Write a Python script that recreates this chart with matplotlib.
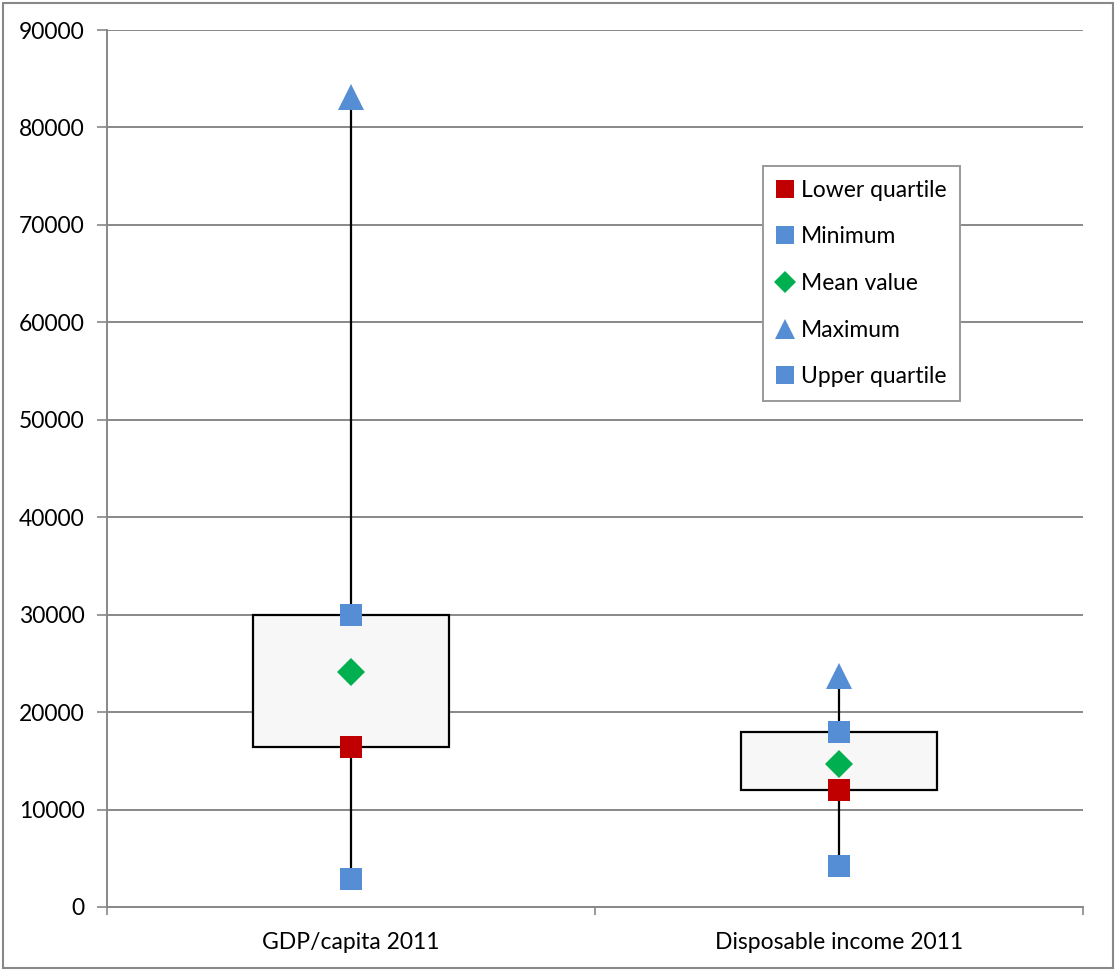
import matplotlib.pyplot as plt
from matplotlib.patches import Rectangle

# summary statistics per indicator
categories = ['GDP/capita 2011', 'Disposable income 2011']
minimum = [2900, 4200]
lower_q = [16400, 12000]
mean_val = [24100, 14700]
upper_q = [30000, 18000]
maximum = [83100, 23700]

plt.rcParams['font.family'] = ['Lato', 'DejaVu Sans']
plt.rcParams['font.size'] = 16.5

fig = plt.figure(figsize=(11.16, 9.72), dpi=100)
ax = fig.add_axes([0.0959, 0.0669, 0.8745, 0.9022])

x = list(range(len(categories)))

# whiskers from min to max
for xi, lo, hi in zip(x, minimum, maximum):
    ax.plot([xi, xi], [lo, hi], color='black', lw=1.6, zorder=2)

# box between the quartiles
ax.bar(x, [u - l for u, l in zip(upper_q, lower_q)], bottom=lower_q, width=0.4,
       color='#F7F7F7', edgecolor='black', linewidth=1.6, zorder=3)

ms = 16.5
ax.plot(x, lower_q, 's', color='#C00000', ms=ms, mew=0, label='Lower quartile', zorder=4)
ax.plot(x, minimum, 's', color='#558ED5', ms=ms, mew=0, label='Minimum', zorder=4)
ax.plot(x, mean_val, 'D', color='#00B050', ms=ms * 0.85, mew=0, label='Mean value', zorder=4)
ax.plot(x, maximum, '^', color='#558ED5', ms=ms * 1.1, mew=0, label='Maximum', zorder=4)
ax.plot(x, upper_q, 's', color='#558ED5', ms=ms, mew=0, label='Upper quartile', zorder=4)

ax.set_xlim(-0.5, 1.5)
ax.set_ylim(0, 90000)
ax.set_yticks(range(0, 90001, 10000))
ax.set_xticks([-0.5, 0.5, 1.5])
ax.set_xticklabels([])
ax.set_xticks(x, minor=True)
ax.set_xticklabels(categories, minor=True)
ax.tick_params(axis='x', which='minor', length=0, pad=18)
ax.tick_params(axis='x', which='major', length=6, width=1.2, color='#888888')
ax.tick_params(axis='y', length=7, width=1.2, color='#888888', pad=9)

ax.grid(axis='y', color='#888888', lw=1.4, zorder=0)
ax.set_axisbelow(True)
for side in ['top', 'right']:
    ax.spines[side].set_visible(False)
for side in ['left', 'bottom']:
    ax.spines[side].set_color('#888888')
    ax.spines[side].set_linewidth(1.4)

leg = ax.legend(loc='upper left', bbox_to_anchor=(0.672, 0.845), borderaxespad=0,
                frameon=True, fancybox=False, edgecolor='#999999', framealpha=1,
                labelspacing=1.12, handlelength=0.75, handletextpad=0.3,
                borderpad=0.6, fontsize=16.5, markerscale=0.78)
leg.get_frame().set_linewidth(1.4)

# outer chart border
fig.patches.append(Rectangle((0.003, 0.004), 0.994, 0.993, transform=fig.transFigure,
                             fill=False, edgecolor='#888888', lw=1.5))

fig.savefig('out.png', dpi=100)
